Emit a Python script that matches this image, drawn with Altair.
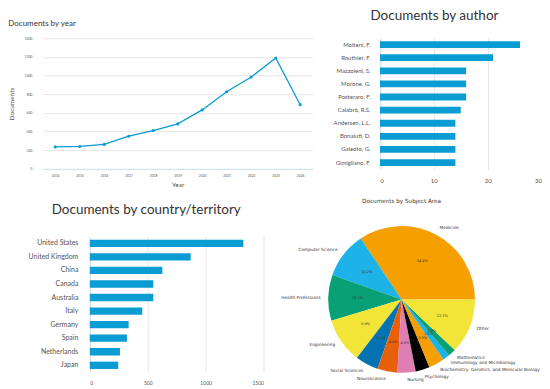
import math
import numpy as np
import pandas as pd
import altair as alt

# ---------------- data ----------------
years = [2014, 2015, 2016, 2017, 2018, 2019, 2020, 2021, 2022, 2023, 2024]
year_docs = [235, 240, 262, 350, 410, 482, 632, 827, 985, 1188, 688]

authors = ["Molteni, F.", "Routhier, F.", "Mazzoleni, S.", "Morone, G.", "Posteraro, F.",
           "Calabrò, R.S.", "Andersen, L.L.", "Bonaiuti, D.", "Galeoto, G.", "Gimigliano, F."]
author_docs = [26, 21, 16, 16, 16, 15, 14, 14, 14, 14]

countries = ["United States", "United Kingdom", "China", "Canada", "Australia",
             "Italy", "Germany", "Spain", "Netherlands", "Japan"]
country_docs = [1326, 871, 626, 548, 548, 453, 335, 320, 260, 245]

subjects = ["Medicine", "Computer Science", "Health Professions", "Engineering",
            "Social Sciences", "Neuroscience", "Nursing", "Psychology",
            "Biochemistry, Genetics, and Molecular Biology", "Immunology and Microbiology",
            "Mathematics", "Other"]
subject_pct = [34.4, 10.2, 10.1, 9.9, 5.1, 4.4, 4.0, 3.1, 3.5, 1.5, 1.7, 12.1]
subject_colors = ["#F5A000", "#1DB3E8", "#08A075", "#F3E438", "#0573B3", "#E8600A",
                  "#DE7EB2", "#000000", "#F5A000", "#1DB3E8", "#08A075", "#F3E438"]

# ---------------- style ----------------
FONT = "Lato"
BLUE = "#0A9CD3"
GRID = "#E6E6E6"
DOMAIN = "#CFE2EE"
TXT = "#333333"
LAB = "#555555"

# ---------------- A: documents by year ----------------
dfA = pd.DataFrame({"Year": years, "Documents": year_docs})
A = alt.Chart(dfA).mark_line(
    color=BLUE, strokeWidth=1.3,
    point=alt.OverlayMarkDef(filled=True, color=BLUE, size=10)
).encode(
    x=alt.X("Year:O", title="Year", scale=alt.Scale(padding=0.5),
            axis=alt.Axis(labelAngle=0, labelFontSize=3.3, labelColor=LAB, labelPadding=4.4,
                          ticks=False, domain=True, domainColor=DOMAIN, grid=False,
                          titleFontSize=6.5, titleColor=LAB, titleFontWeight="normal",
                          titlePadding=5)),
    y=alt.Y("Documents:Q", title="Documents",
            scale=alt.Scale(domain=[0, 1400], nice=False),
            axis=alt.Axis(values=[0, 200, 400, 600, 800, 1000, 1200, 1400], format="d",
                          labelFontSize=3.3, labelColor=LAB, labelPadding=11,
                          ticks=False, domain=False, gridColor=GRID,
                          titleFontSize=6.5, titleColor=LAB, titleFontWeight="normal",
                          titlePadding=10)),
).properties(
    width=270, height=130.8,
    title=alt.TitleParams("Documents by year", anchor="start", frame="bounds",
                          fontSize=8, font=FONT, fontWeight="normal", color=TXT, offset=8),
)

# ---------------- B: documents by author ----------------
dfB = pd.DataFrame({"author": authors, "docs": author_docs})
B = alt.Chart(dfB).mark_bar(color=BLUE).encode(
    y=alt.Y("author:N", sort=authors, title=None,
            scale=alt.Scale(paddingInner=0.48, paddingOuter=0.22),
            axis=alt.Axis(offset=-60.7, labelFontSize=6, labelColor=LAB, labelPadding=10,
                          ticks=False, domain=True, domainColor=DOMAIN, grid=False)),
    x=alt.X("docs:Q", title=None,
            scale=alt.Scale(domain=[0, 30], range=[60.7, 222.5], nice=False),
            axis=alt.Axis(values=[0, 10, 20, 30], format="d", labelFontSize=6, labelColor=LAB,
                          labelPadding=8.5, ticks=False, domain=False, gridColor=GRID)),
).properties(
    width=222.5, height=130.8,
    title=alt.TitleParams("Documents by author", anchor="middle", frame="bounds",
                          fontSize=13.5, font=FONT, fontWeight="normal", color=TXT,
                          offset=16, dx=4),
)

# ---------------- C: documents by country ----------------
dfC = pd.DataFrame({"country": countries, "docs": country_docs})
C = alt.Chart(dfC).mark_bar(color=BLUE).encode(
    y=alt.Y("country:N", sort=countries, title=None,
            scale=alt.Scale(paddingInner=0.46, paddingOuter=0.2),
            axis=alt.Axis(offset=-47, labelFontSize=7, labelColor=LAB, labelPadding=12,
                          ticks=False, domain=True, domainColor=DOMAIN, grid=False)),
    x=alt.X("docs:Q", title=None,
            scale=alt.Scale(domain=[0, 1500], range=[47, 221], nice=False),
            axis=alt.Axis(values=[0, 500, 1000, 1500], format="d", labelFontSize=5,
                          labelColor=LAB, labelPadding=8.8, ticks=False, domain=False,
                          gridColor=GRID)),
).properties(
    width=230, height=135,
    title=alt.TitleParams("Documents by country/territory", anchor="middle", frame="bounds",
                          fontSize=13.5, font=FONT, fontWeight="normal", color=TXT,
                          offset=20, dx=-4),
)

# ---------------- D: documents by subject area ----------------
dfD = pd.DataFrame({"subject": subjects, "pct": subject_pct, "idx": list(range(len(subjects)))})
dfD["mid"] = dfD["pct"].cumsum() - dfD["pct"] / 2
dfD["right"] = np.cos(2 * np.pi * dfD["mid"] / 100) > 0
dfD["label"] = dfD["pct"].map(lambda v: f"{v:.1f}%")

theta_scale = alt.Scale(domain=[0, 100], range=[2.5 * math.pi, 0.5 * math.pi])

arcs = alt.Chart(dfD).mark_arc(radius=73.5).encode(
    theta=alt.Theta("pct:Q", stack=True, scale=theta_scale),
    color=alt.Color("subject:N", scale=alt.Scale(domain=subjects, range=subject_colors),
                    legend=None),
    order=alt.Order("idx:Q"),
)
pct_text = alt.Chart(dfD).mark_text(
    radius=44, font="DejaVu Sans", fontSize=3.5, color=TXT
).encode(
    theta=alt.Theta("mid:Q", stack=None, scale=theta_scale),
    text="label:N",
)
lab_right = alt.Chart(dfD).transform_filter("datum.right").mark_text(
    radius=81, align="left", baseline="middle", font="DejaVu Sans", fontSize=4.3, color=TXT
).encode(
    theta=alt.Theta("mid:Q", stack=None, scale=theta_scale),
    text="subject:N",
)
lab_left = alt.Chart(dfD).transform_filter("!datum.right").mark_text(
    radius=81, align="right", baseline="middle", font="DejaVu Sans", fontSize=4.3, color=TXT
).encode(
    theta=alt.Theta("mid:Q", stack=None, scale=theta_scale),
    text="subject:N",
)
D = alt.layer(arcs, pct_text, lab_right, lab_left).properties(
    width=258.6, height=125.2,
    title=alt.TitleParams("Documents by Subject Area", anchor="middle", frame="group",
                          fontSize=5.7, font="DejaVu Sans", fontWeight="normal", color=TXT,
                          offset=22),
)

row1 = alt.hconcat(A, B, spacing=7)
row2 = alt.hconcat(C, D, spacing=0)
chart = alt.vconcat(row1, row2, spacing=10).properties(
    padding=0, background="white"
).configure_view(stroke=None).configure_axis(labelFont=FONT, titleFont=FONT)

chart.save("out.html", embed_options={"renderer": "svg", "actions": False})
